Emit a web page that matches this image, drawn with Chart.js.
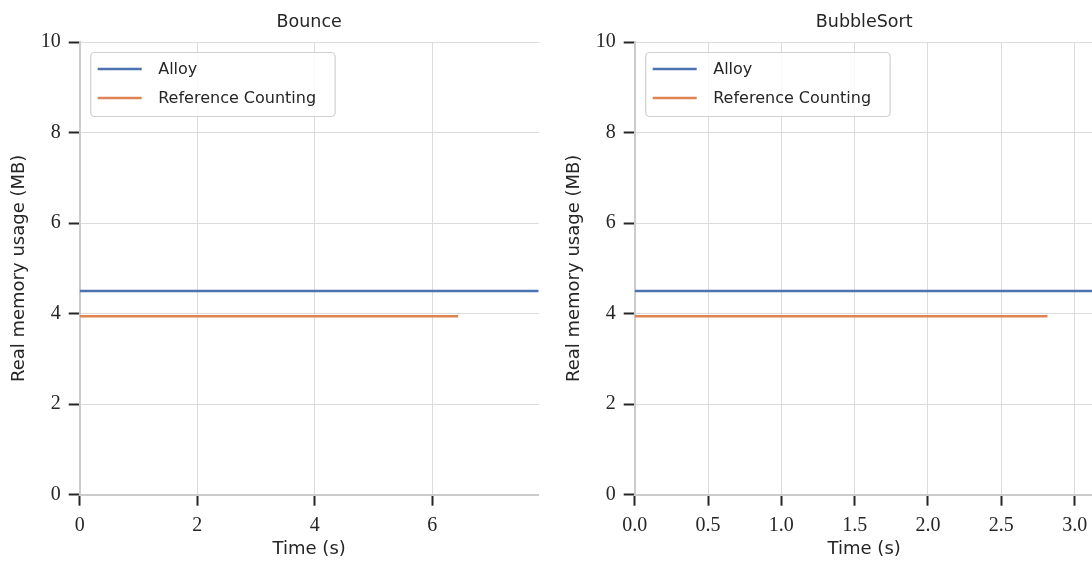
<!DOCTYPE html>
<html>
<head>
<meta charset="utf-8">
<script src="https://cdn.jsdelivr.net/npm/chart.js@4"></script>
<style>
  html, body { margin: 0; padding: 0; background: #fff; overflow: hidden; width: 1092px; height: 563px; }
  .panel { position: absolute; top: 0; width: 546px; height: 563px; }
</style>
</head>
<body>
<div class="panel" style="left:0"><canvas id="bounce" width="546" height="563"></canvas></div>
<div class="panel" style="left:555px"><canvas id="bubble" width="546" height="563"></canvas></div>
<script>
// Bounce benchmark
const bounceAlloyTime = [0, 7.81]
const bounceAlloyMB = [4.5, 4.5]
const bounceRcTime = [0, 6.44]
const bounceRcMB = [3.94, 3.94]
const bounceXTicks = [0, 2, 4, 6]

// BubbleSort benchmark
const bubbleAlloyTime = [0, 3.13]
const bubbleAlloyMB = [4.5, 4.5]
const bubbleRcTime = [0, 2.815]
const bubbleRcMB = [3.94, 3.94]
const bubbleXTicks = [0, 0.5, 1.0, 1.5, 2.0, 2.5, 3.0]

const yTicks = [0, 2, 4, 6, 8, 10]
const seriesNames = ['Alloy', 'Reference Counting']
const seriesColors = ['#4c72b0', '#dd8452']

const ink = '#262626'
const sans = 'DejaVu Sans'
const serif = 'Liberation Serif'

const toPoints = (xs, ys) => xs.map((x, i) => ({ x: x, y: ys[i] }))

// legend box drawn inside the plot, matplotlib style
const boxLegend = {
  id: 'boxLegend',
  afterDraw(chart) {
    const ctx = chart.ctx
    const area = chart.chartArea
    ctx.save()
    ctx.font = '16px "' + sans + '"'
    const labels = chart.data.datasets.map(d => d.label)
    const textW = Math.max(...labels.map(l => ctx.measureText(l).width))
    const x = area.left + 11, y = area.top + 10.5
    const w = 67.5 + textW + 19, h = 64
    ctx.beginPath()
    ctx.roundRect(x, y, w, h, 4)
    ctx.fillStyle = 'rgba(255,255,255,0.8)'
    ctx.fill()
    ctx.strokeStyle = '#d0d0d0'
    ctx.lineWidth = 1.2
    ctx.stroke()
    chart.data.datasets.forEach((d, i) => {
      const ly = y + 16.5 + i * 29
      ctx.beginPath()
      ctx.moveTo(x + 7, ly)
      ctx.lineTo(x + 51, ly)
      ctx.strokeStyle = d.borderColor
      ctx.lineWidth = 2.5
      ctx.stroke()
      ctx.fillStyle = ink
      ctx.textBaseline = 'middle'
      ctx.fillText(d.label, x + 67.5, ly + 1)
    })
    ctx.restore()
  }
}

function makeChart(id, title, alloy, rc, xTicks, xMax, decimals) {
  new Chart(document.getElementById(id), {
    type: 'line',
    data: {
      datasets: [alloy, rc].map((pts, i) => ({
        label: seriesNames[i],
        data: pts,
        borderColor: seriesColors[i],
        backgroundColor: seriesColors[i],
        borderWidth: 2.5,
        pointRadius: 0,
        tension: 0
      }))
    },
    options: {
      responsive: false,
      animation: false,
      layout: { padding: { left: 0, right: 7.3, top: 0, bottom: 0 } },
      plugins: {
        legend: { display: false },
        tooltip: { enabled: false },
        title: {
          display: true,
          fullSize: false,
          text: title,
          color: ink,
          font: { family: sans, size: 17.5, weight: 'normal' },
          padding: { top: 12, bottom: 9 }
        }
      },
      scales: {
        x: {
          type: 'linear',
          min: 0,
          max: xMax,
          afterBuildTicks: s => { s.ticks = xTicks.map(v => ({ value: v })) },
          afterFit: s => { s.height = 68.3 },
          ticks: {
            color: ink,
            font: { family: serif, size: 20 },
            padding: 8,
            maxRotation: 0,
            callback: v => v.toFixed(decimals)
          },
          grid: { color: '#dcdcdc', lineWidth: 1, tickColor: ink, tickWidth: 2, tickLength: 11 },
          border: { display: true, color: '#cccccc', width: 2 },
          title: {
            display: true,
            text: 'Time (s)',
            color: ink,
            font: { family: sans, size: 18 },
            padding: { top: 0, bottom: 3 }
          }
        },
        y: {
          min: 0,
          max: 10,
          afterBuildTicks: s => { s.ticks = yTicks.map(v => ({ value: v })) },
          afterFit: s => { s.width = 79.7 },
          ticks: {
            color: ink,
            font: { family: serif, size: 20 },
            padding: 8
          },
          grid: { color: '#dcdcdc', lineWidth: 1, tickColor: ink, tickWidth: 2, tickLength: 11 },
          border: { display: true, color: '#cccccc', width: 2 },
          title: {
            display: true,
            text: 'Real memory usage (MB)',
            color: ink,
            font: { family: sans, size: 18 },
            padding: { top: 9, bottom: 0 }
          }
        }
      }
    },
    plugins: [boxLegend]
  })
}

makeChart('bounce', 'Bounce',
  toPoints(bounceAlloyTime, bounceAlloyMB), toPoints(bounceRcTime, bounceRcMB),
  bounceXTicks, bounceAlloyTime[bounceAlloyTime.length - 1], 0)

makeChart('bubble', 'BubbleSort',
  toPoints(bubbleAlloyTime, bubbleAlloyMB), toPoints(bubbleRcTime, bubbleRcMB),
  bubbleXTicks, bubbleAlloyTime[bubbleAlloyTime.length - 1], 1)
</script>
</body>
</html>
